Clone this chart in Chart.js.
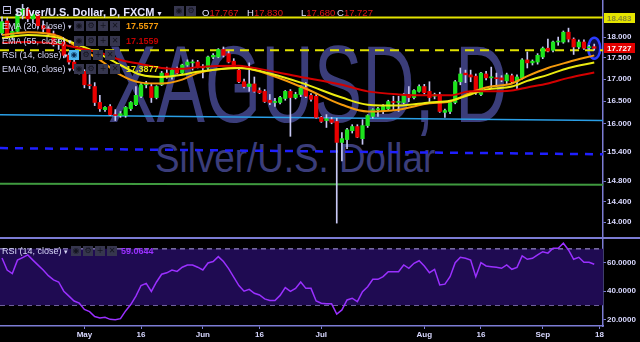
<!DOCTYPE html>
<html>
<head>
<meta charset="utf-8">
<title>XAGUSD, D</title>
<script src="https://cdn.jsdelivr.net/npm/chart.js@4.4.0/dist/chart.umd.min.js"></script>
<style>
  html, body { margin: 0; padding: 0; background: #000; }
  #wrap { position: relative; width: 640px; height: 342px; overflow: hidden; background: #000;
          font-family: 'Liberation Sans', Arial, sans-serif; }
  canvas { position: absolute; left: 0; z-index: 1; }
  #priceCanvas { top: 0; }
  #rsiCanvas { top: 239px; }
  .wm { position: absolute; white-space: nowrap; color: #3b3d7a; line-height: 1; transform-origin: 0 0; z-index: 0; }
  .t { position: absolute; white-space: nowrap; line-height: 1; color: #d6d6f5; z-index: 2; }
  .leg { font-size: 9px; }
  .val { font-size: 9px; font-weight: bold; }
  .ico { position: absolute; width: 10px; height: 10px; background: #36364e; color: #14141f; font-size: 8px;
         line-height: 10px; text-align: center; z-index: 2; font-family: 'DejaVu Sans', sans-serif; }
  .ohlc { font-size: 9.5px; color: #e4e4ff; }
  .ohlc span { color: #e41616; }
  #sep { position: absolute; left: 0; top: 237px; width: 640px; height: 2px; background: #7c7cd4; z-index: 2; }
</style>
</head>
<body>
<div id="wrap">
  <!-- 水印 -->
  <div class="wm" style="left:108px;top:29px;font-size:110px;transform:scaleX(0.66)">XAGUSD, D</div>
  <div class="wm" style="left:155px;top:138px;font-size:40px;transform:scaleX(0.92)">Silver/U.S. Dollar</div>

  <canvas id="priceCanvas" width="640" height="238"></canvas>
  <canvas id="rsiCanvas" width="640" height="103"></canvas>
  <div id="sep"></div>

  <!-- 標題列 -->
  <div class="t" style="left:2px;top:4px;font-size:12px;color:#c6c6f0;font-family:'DejaVu Sans',sans-serif">⊟</div>
  <div class="t" style="left:15px;top:7px;font-size:11px;font-weight:bold;color:#e4e4ff">Silver/U.S. Dollar, D, FXCM <span style="font-size:8px;font-family:'DejaVu Sans',sans-serif">▾</span></div>
  <div class="ico" style="left:174px;top:6px">◉</div>
  <div class="ico" style="left:186px;top:6px">⚙</div>
  <div class="t ohlc" style="left:202px;top:8px">O<span>17.767</span></div>
  <div class="t ohlc" style="left:247px;top:8px">H<span>17.830</span></div>
  <div class="t ohlc" style="left:301px;top:8px">L<span>17.680</span></div>
  <div class="t ohlc" style="left:337px;top:8px">C<span>17.727</span></div>
</div>

<script>
// K線資料 (2017/04/07 ~ 2017/09/15, 日線)
const OPEN = [
  18.10, 18.40, 18.00, 18.14, 18.55, 18.70, 18.45, 18.56, 18.28, 18.20,
  18.08, 17.82, 17.88, 17.56, 17.40, 17.24, 17.18, 16.87, 16.83, 16.47,
  16.31, 16.38, 16.20, 16.18, 16.18, 16.33, 16.42, 16.61, 16.87, 16.83,
  16.58, 16.87, 17.14, 17.05, 17.23, 17.14, 17.33, 17.38, 17.40, 17.30,
  17.26, 17.52, 17.52, 17.70, 17.60, 17.42, 17.21, 16.94, 16.83, 16.89,
  16.74, 16.72, 16.52, 16.47, 16.47, 16.56, 16.72, 16.58, 16.65, 16.80,
  16.63, 16.61, 16.14, 16.07, 16.09, 16.05, 15.60, 15.66, 15.85, 15.94,
  15.68, 15.96, 16.16, 16.31, 16.27, 16.33, 16.48, 16.47, 16.47, 16.65,
  16.58, 16.72, 16.83, 16.72, 16.61, 16.65, 16.25, 16.27, 16.47, 16.94,
  17.14, 17.10, 17.07, 16.65, 17.12, 17.03, 17.02, 17.03, 16.96, 17.08,
  16.94, 17.03, 17.45, 17.38, 17.40, 17.52, 17.73, 17.68, 17.88, 17.88,
  18.12, 17.95, 17.76, 17.88, 17.74, 17.767
];
const HIGH = [
  18.50, 18.48, 18.20, 18.66, 18.82, 18.74, 18.62, 18.60, 18.40, 18.25,
  18.15, 17.95, 17.95, 17.62, 17.48, 17.30, 17.22, 17.10, 16.92, 16.63,
  16.38, 16.42, 16.31, 16.27, 16.38, 16.49, 16.83, 16.90, 16.95, 16.90,
  16.85, 17.18, 17.28, 17.24, 17.28, 17.35, 17.45, 17.45, 17.44, 17.34,
  17.54, 17.60, 17.72, 17.76, 17.66, 17.48, 17.25, 17.00, 17.38, 17.05,
  16.80, 16.76, 16.65, 16.56, 16.61, 16.74, 16.76, 16.70, 16.85, 16.92,
  16.67, 16.65, 16.16, 16.20, 16.14, 16.12, 15.81, 15.90, 15.98, 15.98,
  16.09, 16.20, 16.33, 16.36, 16.42, 16.52, 16.61, 16.61, 16.67, 16.83,
  16.76, 16.87, 16.88, 16.94, 16.68, 16.70, 16.32, 16.51, 16.97, 17.26,
  17.21, 17.21, 17.12, 17.16, 17.18, 17.28, 17.14, 17.08, 17.14, 17.12,
  17.10, 17.48, 17.64, 17.45, 17.60, 17.76, 17.95, 17.90, 18.00, 18.15,
  18.22, 17.98, 17.93, 17.93, 17.80, 17.830
];
const LOW = [
  18.05, 17.96, 17.94, 18.10, 18.45, 18.38, 18.35, 18.22, 18.12, 18.02,
  17.78, 17.70, 17.50, 17.35, 17.20, 17.12, 16.80, 16.78, 16.40, 16.27,
  16.27, 16.18, 16.07, 16.14, 16.14, 16.29, 16.40, 16.58, 16.80, 16.47,
  16.55, 16.85, 17.02, 17.00, 17.12, 17.10, 17.30, 17.21, 17.26, 17.03,
  17.22, 17.48, 17.50, 17.52, 17.38, 17.26, 16.92, 16.80, 16.72, 16.70,
  16.67, 16.47, 16.42, 16.38, 16.44, 16.52, 15.73, 16.55, 16.60, 16.58,
  16.50, 16.12, 16.03, 15.92, 16.00, 13.98, 15.21, 15.47, 15.80, 15.70,
  15.56, 15.92, 16.12, 16.16, 16.22, 16.30, 16.31, 16.27, 16.44, 16.49,
  16.55, 16.70, 16.66, 16.49, 16.55, 16.25, 16.14, 16.22, 16.44, 16.87,
  16.92, 16.94, 16.65, 16.62, 16.98, 16.81, 16.83, 16.94, 16.90, 16.90,
  16.76, 17.00, 17.26, 17.33, 17.35, 17.48, 17.64, 17.64, 17.80, 17.85,
  17.88, 17.58, 17.72, 17.70, 17.70, 17.680
];
const CLOSE = [
  18.38, 18.00, 18.14, 18.55, 18.70, 18.45, 18.56, 18.28, 18.20, 18.08,
  17.82, 17.88, 17.56, 17.40, 17.24, 17.18, 16.87, 16.85, 16.47, 16.33,
  16.36, 16.20, 16.18, 16.22, 16.36, 16.47, 16.63, 16.87, 16.90, 16.58,
  16.83, 17.14, 17.05, 17.21, 17.14, 17.33, 17.40, 17.39, 17.28, 17.26,
  17.52, 17.56, 17.70, 17.56, 17.40, 17.28, 16.94, 16.83, 16.89, 16.72,
  16.69, 16.49, 16.47, 16.48, 16.58, 16.72, 16.58, 16.65, 16.80, 16.61,
  16.54, 16.14, 16.05, 16.11, 16.03, 15.60, 15.68, 15.87, 15.94, 15.71,
  15.96, 16.18, 16.31, 16.32, 16.38, 16.49, 16.47, 16.48, 16.65, 16.58,
  16.74, 16.83, 16.69, 16.58, 16.65, 16.27, 16.29, 16.47, 16.94, 17.12,
  17.10, 17.05, 16.69, 17.14, 17.03, 17.04, 17.01, 16.98, 17.10, 16.94,
  17.05, 17.45, 17.38, 17.42, 17.56, 17.73, 17.66, 17.88, 17.89, 18.12,
  17.95, 17.76, 17.88, 17.73, 17.75, 17.727
];

// RSI(14)
const RSI = [
  63.5, 55, 52.5, 62, 63.8, 65.7, 62, 58.5, 55, 51,
  48, 46.5, 40, 36.5, 33, 31.5, 27, 25.5, 22, 21,
  21.5, 20, 19.8, 20.5, 26, 30.5, 36.5, 44, 45.5, 39.8,
  46.5, 52, 53, 55, 54, 57, 58.5, 58.6, 57, 55,
  60, 61, 64.5, 61, 56, 50, 44, 40, 41.3, 38.5,
  37.3, 34.5, 33.4, 33.4, 37, 42.5, 39.8, 42, 46.5, 42,
  42, 33, 31.4, 31, 31, 23.8, 26.7, 33.8, 35, 32.6,
  39.6, 43.2, 48.4, 48.4, 50.3, 53.8, 53.8, 53.8, 58.6, 56.2,
  59.8, 61.6, 57.9, 53.1, 55.5, 44.4, 45, 50.3, 60.2, 64,
  63.3, 62.1, 50.3, 60.2, 57.9, 57.4, 56.9, 56.2, 58.6, 55.5,
  56.9, 65, 62.6, 63.3, 65.7, 68, 67, 70.4, 70.4, 74,
  69.2, 62.6, 64, 60.5, 60.5, 59.06
];

// 均線 (在這些K線位置讀取的值)
const EMA_AT = [0, 5, 11, 15, 19, 23, 27, 31, 35, 38, 46, 48, 58, 66, 71, 77, 83, 87, 91, 94, 99, 102, 106, 110, 115];
const EMA20 = [18.05, 18.12, 18.02, 17.73, 17.45, 17.10, 16.92, 16.90, 16.99, 17.14, 17.26, 17.24, 16.83, 16.42, 16.27, 16.31, 16.45, 16.49, 16.69, 16.81, 16.90, 17.07, 17.26, 17.40, 17.5577];
const EMA30 = [17.98, 18.05, 17.98, 17.80, 17.59, 17.33, 17.10, 17.05, 17.10, 17.17, 17.26, 17.24, 16.92, 16.58, 16.42, 16.40, 16.47, 16.51, 16.65, 16.76, 16.83, 16.96, 17.10, 17.26, 17.3877];
const EMA55 = [17.86, 17.88, 17.83, 17.73, 17.62, 17.45, 17.35, 17.26, 17.24, 17.28, 17.31, 17.28, 17.05, 16.87, 16.72, 16.65, 16.63, 16.63, 16.72, 16.72, 16.74, 16.81, 16.90, 17.03, 17.1559];

// 水平線與趨勢線 [左端, 右端]
const RESIST_LINE = [18.483, 18.483];
const DASH_LINE = [17.68, 17.68];
const BLUE_LINE = [16.20, 16.07];
const BLUE_DASH_LINE = [15.48, 15.35];
const GREEN_LINE = [14.75, 14.73];
const LAST_PRICE = 17.727;

// 座標軸刻度
const PRICE_TICKS = [14, 14.4, 14.8, 15.4, 16, 16.5, 17, 17.5, 18];
const RSI_TICKS = [20, 40, 60];
const DATE_TICK_AT = [16, 27, 39, 50, 62, 82, 93, 105, 116];
const DATE_TICK_LABELS = ['May', '16', 'Jun', '16', 'Jul', 'Aug', '16', 'Sep', '18'];

const X_MIN = -0.39, X_MAX = 116.7;
const AXIS = '#7c7cd4';
const LABEL = '#d8d8ff';
const GREEN = '#1de41d', RED = '#e80000', WICK = '#c8c8f4';
const FONT = "'Liberation Sans', Arial, sans-serif";

Chart.defaults.font.family = FONT;
Chart.defaults.animation = false;

const idx = CLOSE.map((_, i) => i);

function line(ends, color, width, dash, order) {
  return {
    type: 'line',
    data: [{ x: X_MIN, y: ends[0] }, { x: X_MAX, y: ends[1] }],
    borderColor: color, borderWidth: width, borderDash: dash || [],
    pointRadius: 0, order: order
  };
}

function ema(values, color) {
  return {
    type: 'line',
    data: EMA_AT.map((p, k) => ({ x: p, y: values[k] })),
    borderColor: color, borderWidth: 2, pointRadius: 0,
    cubicInterpolationMode: 'monotone', order: 1
  };
}

// 價格軸上的標籤
function tag(chart, value, bg, fg) {
  const { ctx, scales: { y } } = chart;
  const py = Math.round(y.getPixelForValue(value));
  ctx.save();
  ctx.fillStyle = bg;
  ctx.fillRect(604, py - 5, 31, 10);
  ctx.fillStyle = fg;
  ctx.font = 'bold 8px ' + FONT;
  ctx.textBaseline = 'middle';
  ctx.fillText(value.toFixed(3), 607, py + 0.5);
  ctx.restore();
}

const priceMarks = {
  id: 'priceMarks',
  beforeDatasetsDraw(chart) {
    const { ctx, scales: { x, y } } = chart;
    const cx = x.getPixelForValue(CLOSE.length - 1);
    const cy = y.getPixelForValue(LAST_PRICE);
    ctx.save();
    ctx.beginPath();
    ctx.ellipse(cx, cy, 6, 10.5, 0, 0, Math.PI * 2);
    ctx.fillStyle = '#0c0c3c';
    ctx.fill();
    ctx.lineWidth = 2.5;
    ctx.strokeStyle = '#2b3cff';
    ctx.stroke();
    ctx.restore();
  },
  afterDraw(chart) {
    tag(chart, RESIST_LINE[1], '#e5e500', '#8a8a2e');
    tag(chart, LAST_PRICE, '#e10000', '#ffffff');
  }
};

new Chart(document.getElementById('priceCanvas'), {
  type: 'bar',
  data: {
    datasets: [
      line(RESIST_LINE, '#e2e200', 2, [], 5),
      line(DASH_LINE, '#e2e200', 2, [9, 6], 5),
      line(BLUE_LINE, '#2a9fe6', 1.5, [], 5),
      line(BLUE_DASH_LINE, '#1f1fff', 2.5, [8, 7], 5),
      line(GREEN_LINE, '#3f9a3f', 2, [], 5),
      {
        data: idx.map(i => ({ x: i, y: [LOW[i], HIGH[i]] })),
        backgroundColor: WICK, barThickness: 1, grouped: false, order: 3
      },
      {
        data: idx.map(i => ({ x: i, y: [OPEN[i], CLOSE[i]] })),
        backgroundColor: idx.map(i => CLOSE[i] >= OPEN[i] ? GREEN : RED),
        barThickness: 3.6, minBarLength: 1, grouped: false, order: 2
      },
      ema(EMA55, '#d40000'),
      ema(EMA30, '#ecec10'),
      ema(EMA20, '#f59a0c')
    ]
  },
  options: {
    responsive: false,
    layout: { padding: 0 },
    plugins: { legend: { display: false }, tooltip: { enabled: false } },
    scales: {
      x: { type: 'linear', min: X_MIN, max: X_MAX, offset: false, display: false, grid: { offset: false } },
      y: {
        type: 'logarithmic', position: 'right', min: 13.70, max: 18.93,
        afterBuildTicks: s => { s.ticks = PRICE_TICKS.map(v => ({ value: v })); },
        afterFit: s => { s.width = 37; s.paddingTop = 0; s.paddingBottom = 0; },
        ticks: { color: LABEL, autoSkip: false, padding: 1, font: { size: 8, weight: 'bold' },
                 callback: v => Number(v).toFixed(3) },
        grid: { drawOnChartArea: false, tickLength: 3, color: AXIS },
        border: { color: AXIS, width: 1.5 }
      }
    }
  },
  plugins: [priceMarks]
});

new Chart(document.getElementById('rsiCanvas'), {
  type: 'line',
  data: {
    datasets: [
      { data: [{ x: X_MIN, y: 70 }, { x: X_MAX, y: 70 }], borderColor: '#b4a4ea', borderWidth: 1,
        borderDash: [5, 4], pointRadius: 0, fill: '+1', backgroundColor: '#1f0b52', order: 2 },
      { data: [{ x: X_MIN, y: 30 }, { x: X_MAX, y: 30 }], borderColor: '#b4a4ea', borderWidth: 1,
        borderDash: [5, 4], pointRadius: 0, order: 2 },
      { data: idx.map(i => ({ x: i, y: RSI[i] })), borderColor: '#9a30ff', borderWidth: 1.5,
        pointRadius: 0, tension: 0, order: 0 }
    ]
  },
  options: {
    responsive: false,
    layout: { padding: 0 },
    plugins: { legend: { display: false }, tooltip: { enabled: false } },
    scales: {
      x: {
        type: 'linear', min: X_MIN, max: X_MAX, offset: false,
        afterBuildTicks: s => { s.ticks = DATE_TICK_AT.map(v => ({ value: v })); },
        afterFit: s => { s.height = 16; s.paddingLeft = 0; s.paddingRight = 0; },
        ticks: { color: LABEL, autoSkip: false, maxRotation: 0, padding: 1, font: { size: 8, weight: 'bold' },
                 callback: v => DATE_TICK_LABELS[DATE_TICK_AT.indexOf(v)] },
        grid: { drawOnChartArea: false, tickLength: 3, color: AXIS },
        border: { color: AXIS, width: 1.5 }
      },
      y: {
        position: 'right', min: 15.3, max: 77,
        afterBuildTicks: s => { s.ticks = RSI_TICKS.map(v => ({ value: v })); },
        afterFit: s => { s.width = 37; s.paddingTop = 0; s.paddingBottom = 0; },
        ticks: { color: LABEL, autoSkip: false, padding: 1, font: { size: 8, weight: 'bold' },
                 callback: v => Number(v).toFixed(4) },
        grid: { drawOnChartArea: false, tickLength: 3, color: AXIS },
        border: { color: AXIS, width: 1.5 }
      }
    }
  }
});

// 指標圖例列
function legendRow(top, label, iconX, value, valueColor, highlight) {
  const wrap = document.getElementById('wrap');
  const t = document.createElement('div');
  t.className = 't leg';
  t.style.left = '2px';
  t.style.top = top + 'px';
  t.innerHTML = label + ' <span style="font-size:7px;font-family:\'DejaVu Sans\',sans-serif">▾</span>';
  wrap.appendChild(t);
  ['◉', '⚙', '+', '✕'].forEach((g, k) => {
    const b = document.createElement('div');
    b.className = 'ico';
    b.textContent = g;
    b.style.left = (iconX + k * 12) + 'px';
    b.style.top = (top - 1) + 'px';
    if (highlight && k === 0) { b.style.background = '#4db6f0'; b.style.color = '#0a2a50'; }
    wrap.appendChild(b);
  });
  if (value) {
    const v = document.createElement('div');
    v.className = 't val';
    v.style.left = '126px';
    v.style.top = top + 'px';
    v.style.color = valueColor;
    v.textContent = value;
    wrap.appendChild(v);
  }
}

legendRow(22, 'EMA (20, close)', 74, '17.5577', '#f59a0c');
legendRow(36.5, 'EMA (55, close)', 74, '17.1559', '#c00000');
legendRow(50.5, 'RSI (14, close)', 69, '', '', true);
legendRow(65, 'EMA (30, close)', 74, '17.3877', '#e8e810');
legendRow(246.5, 'RSI (14, close)', 71, '', '');
(function () {
  const v = document.createElement('div');
  v.className = 't val';
  v.style.left = '121px';
  v.style.top = '246.5px';
  v.style.color = '#9a30ff';
  v.textContent = '59.0644';
  document.getElementById('wrap').appendChild(v);
})();
</script>
</body>
</html>
